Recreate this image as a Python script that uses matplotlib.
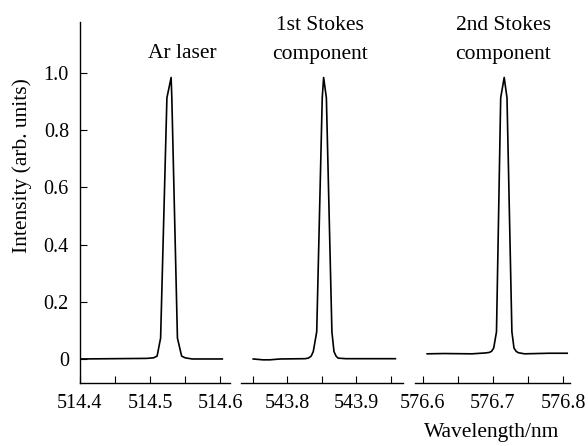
import numpy as np
import matplotlib
matplotlib.use("Agg")
import matplotlib.pyplot as plt

plt.rcParams['font.family'] = ['Liberation Serif', 'DejaVu Serif']

# spectra (wavelength nm, intensity arb. units)
ar_x = [514.400, 514.495, 514.505, 514.510, 514.515, 514.524, 514.530, 514.531, 514.539, 514.545,
        514.550, 514.560, 514.603]
ar_y = [0.0, 0.002, 0.004, 0.010, 0.073, 0.913, 0.984, 0.913, 0.073, 0.010,
        0.004, 0.0, 0.0]

s1_x = [543.751, 543.765, 543.775, 543.790, 543.826, 543.831, 543.835, 543.838, 543.843, 543.851,
        543.853, 543.857, 543.865, 543.868, 543.871, 543.874, 543.885, 543.957]
s1_y = [0.0, -0.003, -0.003, 0.0, 0.001, 0.003, 0.010, 0.026, 0.095, 0.913,
        0.984, 0.913, 0.095, 0.026, 0.010, 0.003, 0.001, 0.001]

s2_x = [576.606, 576.630, 576.670, 576.689, 576.695, 576.698, 576.701, 576.705, 576.711, 576.716,
        576.720, 576.727, 576.730, 576.733, 576.736, 576.745, 576.780, 576.806]
s2_y = [0.018, 0.019, 0.018, 0.021, 0.023, 0.027, 0.038, 0.095, 0.913, 0.984,
        0.913, 0.095, 0.038, 0.027, 0.022, 0.018, 0.020, 0.020]

ar_ticks = [514.4, 514.5, 514.6]
s1_ticks = [543.8, 543.9]
s2_ticks = [576.6, 576.7, 576.8]
ar_minor = [514.45, 514.55]
s1_minor = [543.75, 543.85, 543.95]
s2_minor = [576.65, 576.75]
y_ticks = [0, 0.2, 0.4, 0.6, 0.8, 1.0]
y_labels = ["0", "0.2", "0.4", "0.6", "0.8", "1.0"]

W, H = 588, 446
fig = plt.figure(figsize=(W / 100, H / 100), dpi=100)

bot = (H - 383) / H
hgt = 361 / H
ax1 = fig.add_axes([80 / W, bot, 150 / W, hgt])
ax2 = fig.add_axes([241 / W, bot, 162 / W, hgt])
ax3 = fig.add_axes([415 / W, bot, 155 / W, hgt])

panels = [
    (ax1, ar_x, ar_y, ar_ticks, ar_minor, (514.4, 514.614)),
    (ax2, s1_x, s1_y, s1_ticks, s1_minor, (543.7333, 543.968)),
    (ax3, s2_x, s2_y, s2_ticks, s2_minor, (576.5886, 576.81)),
]

for ax, xs, ys, maj, mnr, lim in panels:
    ax.plot(xs, ys, color='black', lw=1.2)
    ax.set_xlim(*lim)
    ax.set_ylim(-0.084, 1.178)
    ax.set_xticks(maj)
    ax.set_xticklabels([f"{t:.1f}" for t in maj])
    ax.set_xticks(mnr, minor=True)
    ax.tick_params(axis='x', which='both', direction='in', length=5, width=0.8,
                   labelsize=14.5, pad=8)
    for s in ['top', 'right', 'left']:
        ax.spines[s].set_visible(False)
    ax.spines['bottom'].set_linewidth(1.0)
    ax.patch.set_alpha(0)

ax1.spines['left'].set_visible(True)
ax1.spines['left'].set_linewidth(1.0)
ax1.set_yticks(y_ticks)
ax1.set_yticklabels(y_labels)
ax1.tick_params(axis='y', direction='in', length=5, width=0.8, labelsize=14.5, pad=8)
for ax in (ax2, ax3):
    ax.set_yticks([])

ax1.text(514.546, 1.052, "Ar laser", ha='center', va='baseline', fontsize=15.5)
ax2.text(543.848, 1.150, "1st Stokes", ha='center', va='baseline', fontsize=15.5)
ax2.text(543.848, 1.049, "component", ha='center', va='baseline', fontsize=15.5)
ax3.text(576.715, 1.150, "2nd Stokes", ha='center', va='baseline', fontsize=15.5)
ax3.text(576.715, 1.049, "component", ha='center', va='baseline', fontsize=15.5)

fig.text(22 / W, 1 - 166 / H, "Intensity (arb. units)", rotation=90,
         ha='center', va='center', fontsize=15.5)
fig.text(492 / W, 1 - 433 / H, "Wavelength/nm", ha='center', va='center', fontsize=15.5)

fig.savefig("out.png", dpi=100)
